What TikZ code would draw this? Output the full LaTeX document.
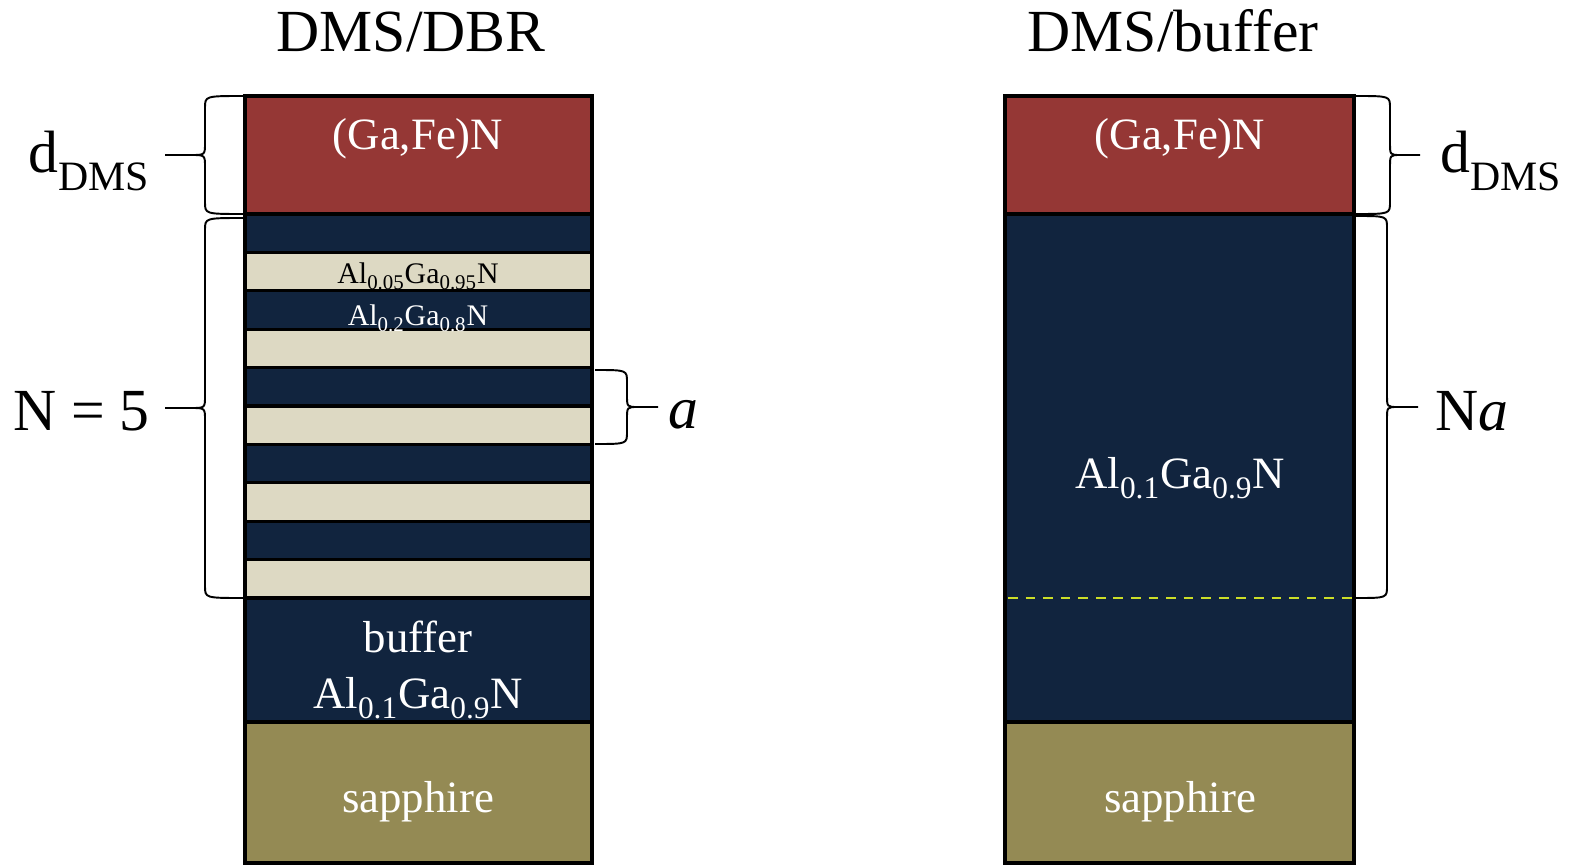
\documentclass[tikz,border=0pt]{standalone}
\usepackage{fontspec}
\setmainfont{Liberation Serif}
\definecolor{dmsred}{RGB}{149,55,53}
\definecolor{navy}{RGB}{17,36,62}
\definecolor{beige}{RGB}{221,217,195}
\definecolor{sapph}{RGB}{148,138,84}
\definecolor{lime}{RGB}{204,222,40}
\tikzset{
  layer/.style={draw=black, line width=1.8pt},
  title/.style={font=\fontsize{34}{40}\selectfont, anchor=base},
  big/.style={font=\fontsize{25.5}{30}\selectfont, text=white, anchor=base},
  small/.style={font=\fontsize{17}{20}\selectfont, anchor=base},
  side/.style={font=\fontsize{34}{40}\selectfont, inner sep=0pt},
  bracket/.style={draw=black, line width=1.1pt}
}
\newcommand{\lsub}[1]{\raisebox{-0.08em}{\textsubscript{#1}}}
% brace: edge x, top y, bottom y, spine x, tip x, tip name
\newcommand{\sidebrace}[6]{%
  \pgfmathsetmacro{\bmid}{(#2+#3)/2}
  \pgfmathsetmacro{\bneck}{#4+(#5-#4)*0.35}
  \draw[bracket] (#1,#2) .. controls (#4,#2) .. (#4,#2+12)
    -- (#4,\bmid-12) .. controls (#4,\bmid) .. (\bneck,\bmid)
    -- (#5,\bmid) coordinate (#6)
    (\bneck,\bmid) .. controls (#4,\bmid) .. (#4,\bmid+12)
    -- (#4,#3-12) .. controls (#4,#3) .. (#1,#3);
}

\begin{document}
\begin{tikzpicture}[x=0.02cm, y=-0.02cm]
    \useasboundingbox (0,0) rectangle (1575,865);
    % DMS/DBR
    \draw[layer, fill=dmsred] (245,96) rectangle (592,214);
    \foreach \i in {0,2,4,6,8}
        \draw[layer, fill=navy] (245,214+38.4*\i) rectangle (592,252.4+38.4*\i);
    \foreach \i in {1,3,5,7,9}
        \draw[layer, fill=beige] (245,214+38.4*\i) rectangle (592,252.4+38.4*\i);
    \draw[layer, fill=navy] (245,598) rectangle (592,722);
    \draw[layer, fill=sapph] (245,722) rectangle (592,863);
    % DMS/buffer
    \draw[layer, fill=dmsred] (1005,96) rectangle (1354,214);
    \draw[layer, fill=navy] (1005,214) rectangle (1354,722);
    \draw[layer, fill=sapph] (1005,722) rectangle (1354,863);
    \draw[lime, line width=1.7pt, dash pattern=on 5.5pt off 4.5pt] (1008,598) -- (1352,598);

    \node[title] (dbrtitle) at (411,52) {DMS/DBR};
    \node[title] (buftitle) at (1173,52) {DMS/buffer};
    \node[big] (gafe1) at (418,150) {(Ga,Fe)N};
    \node[small] (alga1) at (418,283) {Al\lsub{0.05}Ga\lsub{0.95}N};
    \node[small, text=white] (alga2) at (418,325) {Al\lsub{0.2}Ga\lsub{0.8}N};
    \node[big] (buf1) at (418,652) {buffer};
    \node[big] (buf2) at (418,708) {Al\lsub{0.1}Ga\lsub{0.9}N};
    \node[big] (sap1) at (418,812) {sapphire};
    \node[big] (gafe2) at (1180,150) {(Ga,Fe)N};
    \node[big] (alga3) at (1180,488) {Al\lsub{0.1}Ga\lsub{0.9}N};
    \node[big] (sap2) at (1180,812) {sapphire};

    \sidebrace{243}{96}{214}{205}{165}{tipA}
    \sidebrace{243}{218}{598}{205}{165}{tipB}
    \sidebrace{595}{370}{444}{627}{658}{tipC}
    \sidebrace{1356}{96}{214}{1390}{1420}{tipD}
    \sidebrace{1356}{216}{598}{1387}{1418}{tipE}

    \node[side, anchor=base east] (ddms1) at (150,173) {d\lsub{DMS}};
    \node[side, anchor=base east] (nfive) at (150,430) {N = 5};
    \node[side, anchor=base west] (aper) at (668,428) {\textit{a}};
    \node[side, anchor=base west] (ddms2) at (1440,173) {d\lsub{DMS}};
    \node[side, anchor=base west] (nper) at (1435,430) {N\textit{a}};
\end{tikzpicture}
\end{document}
